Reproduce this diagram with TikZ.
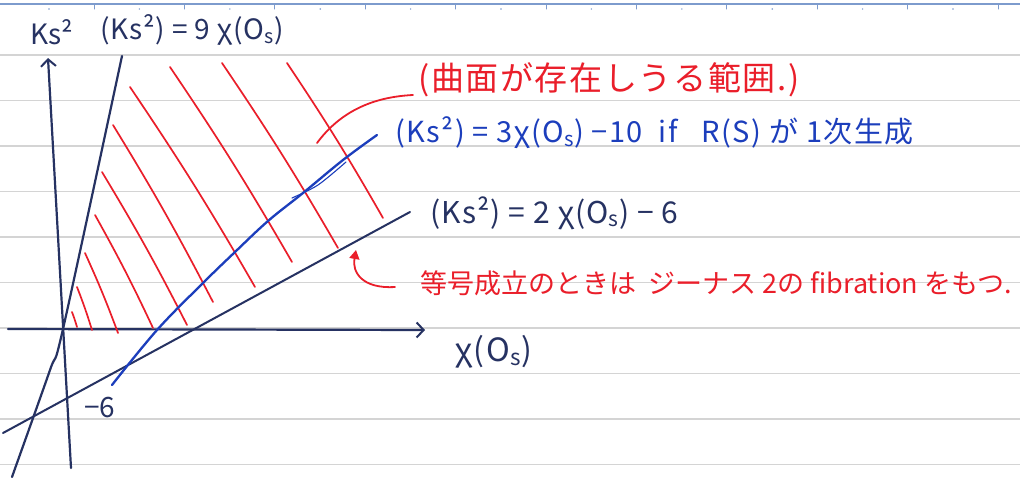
\documentclass[tikz,border=0pt]{standalone}
\usepackage{fontspec}
\setmainfont{Noto Sans CJK JP}
\usetikzlibrary{arrows.meta}
\definecolor{penNavy}{RGB}{38,50,98}
\definecolor{penBlue}{RGB}{28,62,188}
\definecolor{penRed}{RGB}{234,30,42}
\definecolor{ruleGray}{RGB}{212,212,212}
\definecolor{ruleBlue}{RGB}{125,155,205}

\begin{document}
\begin{tikzpicture}[x=1pt,y=-1pt,line cap=round,line join=round,
    navy/.style={draw=penNavy,line width=2.2pt},
    bluepen/.style={draw=penBlue,line width=2.3pt},
    hatch/.style={draw=penRed,line width=1.7pt},
    redpen/.style={draw=penRed,line width=1.8pt},
    navytext/.style={text=penNavy,anchor=west,inner sep=0pt,font=\fontsize{30}{34}\selectfont\addfontfeature{LetterSpace=3}},
    bluetext/.style={text=penBlue,anchor=west,inner sep=0pt,font=\fontsize{29}{32}\selectfont\addfontfeature{LetterSpace=5}},
    redtext/.style={text=penRed,anchor=west,inner sep=0pt,font=\fontsize{27}{30}\selectfont},
    axistip/.style={-{Straight Barb[length=7pt,width=15pt,line width=2pt]}}]
  \useasboundingbox (0,0) rectangle (1020,477);
  \fill[white] (0,0) rectangle (1020,477);
  % ruled paper
  \foreach \k in {1,...,10}
    \draw[ruleGray,line width=1.2pt] (0,9.5+45.5*\k) -- (1020,9.5+45.5*\k);
  \draw[ruleBlue,line width=1.4pt] (0,4) -- (1020,4);
  \foreach \i in {0,...,10} {
    \draw[ruleBlue,line width=1pt] (94+90.4*\i,4) -- ++(0,5);
    \fill[ruleBlue] (49+90.4*\i,9) circle (0.8);
  }

  % axes
  \coordinate (yfoot) at (71,468);
  \coordinate (ytip) at (48,58);
  \coordinate (xfoot) at (8,329);
  \coordinate (xtip) at (425,330);
  \draw[navy,axistip] (yfoot) -- (ytip);
  \draw[navy,axistip] (xfoot) -- (xtip);
  \node[navytext,font=\fontsize{28}{32}\selectfont] (ylab) at (30,32) {Ks²};
  \node[navytext,font=\fontsize{32}{36}\selectfont\addfontfeature{LetterSpace=5}] (xlab) at (455,352) {χ(O\textsubscript{s})};
  \node[navytext,font=\fontsize{28}{32}\selectfont] (minussix) at (84,408) {−6};

  % red hatching of the region
  \foreach \xa/\ya/\xb/\yb in {287/63/383/218, 222/63/338/248, 170/67/292/262, 130/87/255/287,
      113/125/213/302, 102/172/187/325, 95/215/153/328, 85/253/118/333,
      77/287/92/330, 72/312/77/327}
    \draw[hatch] (\xa,\ya) to[bend left=2] (\xb,\yb);

  % bounding lines
  \draw[navy] plot[smooth,tension=0.5] coordinates {(12,477) (50,370) (63,329) (122,56)};
  \coordinate (twoA) at (3,433);
  \coordinate (twoB) at (410,212);
  \draw[navy,line width=2pt] (twoA) -- (twoB);
  \draw[bluepen] plot[smooth,tension=0.6] coordinates {(112,385) (157,330) (203,283) (235,252)
      (268,221) (303,193) (343,160) (377,135)};
  \draw[penBlue,line width=1.1pt] plot[smooth,tension=0.5] coordinates {(292,198) (318,185) (346,162)};

  % labels of the lines
  \node[navytext,font=\fontsize{28}{32}\selectfont\addfontfeature{LetterSpace=3}] (nine) at (100,30) {(Ks²) = 9 χ(O\textsubscript{s})};
  \node[bluetext] (three) at (395,133) {(Ks²) = 3χ(O\textsubscript{s}) −10\ \ if\ \ \ R(S) が 1次生成};
  \node[navytext,font=\fontsize{30}{34}\selectfont\addfontfeature{LetterSpace=4}] (two) at (430,213) {(Ks²) = 2 χ(O\textsubscript{s}) − 6};

  % red notes
  \node[redtext,font=\fontsize{33}{38}\selectfont\addfontfeature{LetterSpace=5}] (range) at (418,80) {(曲面が存在しうる範囲.)};
  \node[redtext] (equality) at (420,283) {等号成立のときは\ \ ジーナス 2の fibration をもつ.};
  \coordinate (rangeleader) at (317,143);
  \coordinate (eqtail) at (395,287);
  \coordinate (eqtip) at (356,250);
  \draw[redpen] (rangeleader) .. controls (340,112) and (372,97) .. (413,95);
  \draw[redpen,-{Triangle[length=9pt,width=10pt]}] (eqtail) .. controls (362,289) and (352,272) .. (eqtip);
\end{tikzpicture}
\end{document}
